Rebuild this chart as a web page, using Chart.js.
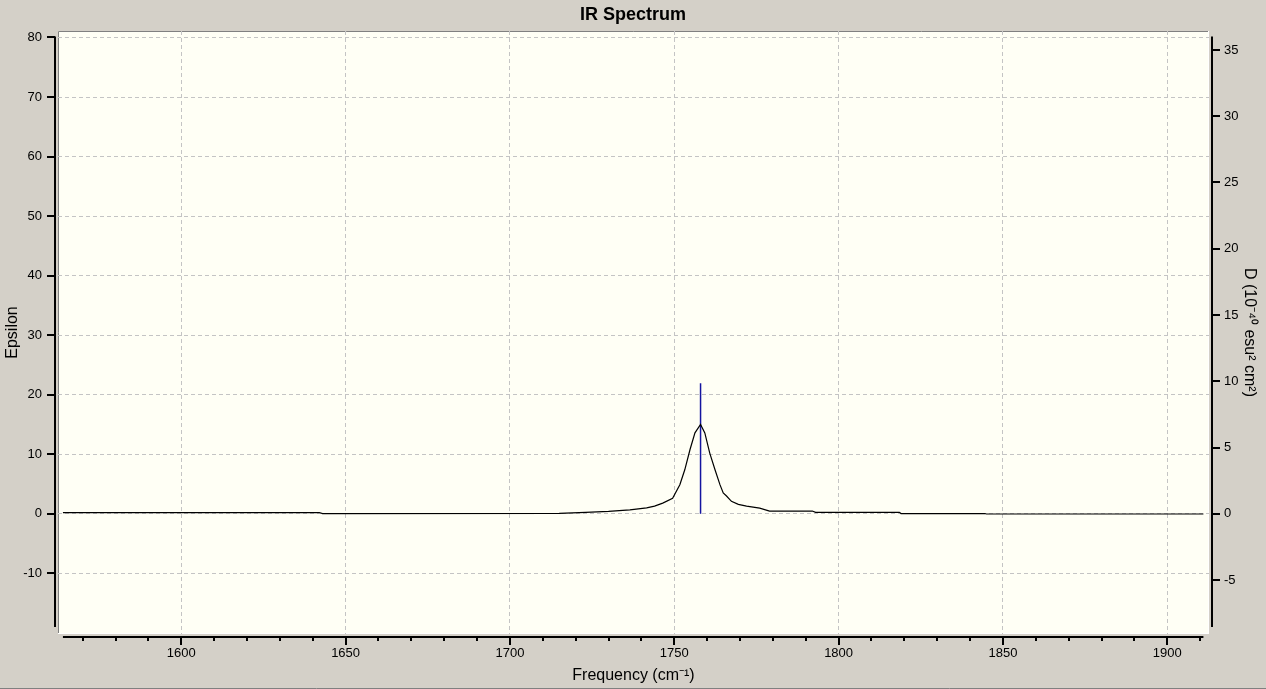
<!DOCTYPE html>
<html>
<head>
<meta charset="utf-8">
<script src="https://cdn.jsdelivr.net/npm/chart.js@4"></script>
<style>
  html, body { margin: 0; padding: 0; background: #D4D0C8; }
  #wrap { position: relative; width: 1266px; height: 689px; }
</style>
</head>
<body>
<div id="wrap"><canvas id="c"></canvas></div>
<script>
// ---- data ----
const freq = [1564, 1642, 1643, 1715, 1723, 1730, 1736.5, 1741.6, 1744, 1746.5, 1749.5, 1751.7, 1753.2, 1754.8, 1756.3, 1758, 1759.3, 1760.8, 1762.4, 1763.9, 1764.9, 1765.9, 1767.4, 1769.5, 1772, 1776, 1779, 1792, 1793, 1818.5, 1819, 1844.5, 1845, 1911];
const epsilon = [0.22, 0.22, 0.05, 0.08, 0.25, 0.4, 0.67, 1.0, 1.3, 1.8, 2.6, 4.9, 7.4, 10.8, 13.6, 15.0, 13.6, 10.2, 7.4, 4.9, 3.5, 3.0, 2.1, 1.6, 1.3, 0.96, 0.47, 0.47, 0.25, 0.25, 0.05, 0.05, -0.03, -0.03];
const stickFreq = [1758];
const stickD = [9.85];
const xTickLabels = [1600, 1650, 1700, 1750, 1800, 1850, 1900];
const xMinorStep = 10;
const epsTickLabels = [-10, 0, 10, 20, 30, 40, 50, 60, 70, 80];
const dTickLabels = [-5, 0, 5, 10, 15, 20, 25, 30, 35];
const epsAxisSpan = [-19, 80];   // drawn extent of axis lines

// ---- build datasets ----
const specPts = freq.map((f, i) => ({ x: f, y: epsilon[i] }));
const stickPts = [];
stickFreq.forEach((f, i) => { stickPts.push({ x: f, y: 0 }, { x: f, y: stickD[i] }, { x: f, y: null }); });
const toTicks = arr => arr.map(v => ({ value: v }));

const panelPlugin = {
  id: 'panel',
  beforeDraw(chart) {
    const { ctx, chartArea: a } = chart;
    ctx.save();
    ctx.fillStyle = '#FFFFF5';
    ctx.fillRect(a.left, a.top, a.right - a.left, a.bottom - a.top);
    ctx.strokeStyle = '#808080'; ctx.lineWidth = 1;
    ctx.beginPath();
    ctx.moveTo(a.left + 0.5, a.bottom); ctx.lineTo(a.left + 0.5, a.top + 0.5); ctx.lineTo(a.right, a.top + 0.5);
    ctx.stroke();
    ctx.strokeStyle = '#FFFFFF';
    ctx.beginPath();
    ctx.moveTo(a.left, a.bottom - 0.5); ctx.lineTo(a.right - 0.5, a.bottom - 0.5); ctx.lineTo(a.right - 0.5, a.top);
    ctx.stroke();
    ctx.strokeStyle = '#808080';
    ctx.beginPath(); ctx.moveTo(0, chart.height - 0.5); ctx.lineTo(chart.width, chart.height - 0.5); ctx.stroke();
    ctx.restore();
  },
  afterDraw(chart) {
    const { ctx, chartArea: a } = chart;
    const xs = chart.scales.x, ys = chart.scales.y, y2s = chart.scales.y2;
    ctx.save();
    ctx.strokeStyle = '#000'; ctx.lineWidth = 2; ctx.lineCap = 'butt';
    const line = (x1, y1, x2, y2) => { ctx.beginPath(); ctx.moveTo(x1, y1); ctx.lineTo(x2, y2); ctx.stroke(); };
    const yT = ys.getPixelForValue(epsAxisSpan[1]) - 1, yB = ys.getPixelForValue(epsAxisSpan[0]);
    const lx = a.left - 3;
    line(lx, yT, lx, yB);
    ys.ticks.forEach(t => { const p = Math.round(ys.getPixelForValue(t.value)); line(lx - 8, p, lx, p); });
    const rx = a.right + 3;
    line(rx, yT, rx, yB);
    y2s.ticks.forEach(t => { const p = Math.round(y2s.getPixelForValue(t.value)); line(rx, p, rx + 8, p); });
    const by = a.bottom + 3;
    const x0 = xs.getPixelForValue(freq[0]), x1 = xs.getPixelForValue(freq[freq.length - 1]);
    line(x0, by, x1, by);
    for (let v = Math.ceil(freq[0] / xMinorStep) * xMinorStep; v <= freq[freq.length - 1]; v += xMinorStep) {
      const p = Math.round(xs.getPixelForValue(v));
      const major = xTickLabels.includes(v);
      line(p, by, p, by + (major ? 8 : 4));
    }
    ctx.restore();
  }
};

const tickFont = { family: 'Liberation Sans, Arial, sans-serif', size: 13 };
const titleFont = { family: 'Liberation Sans, Arial, sans-serif', size: 16 };

new Chart(document.getElementById('c'), {
  type: 'line',
  data: {
    datasets: [
      { label: 'IR', data: specPts, yAxisID: 'y', borderColor: '#000', borderWidth: 1.2, pointRadius: 0, tension: 0, fill: false },
      { label: 'Sticks', data: stickPts, yAxisID: 'y2', borderColor: '#1414A0', borderWidth: 1.5, pointRadius: 0, spanGaps: false, fill: false }
    ]
  },
  options: {
    responsive: true, maintainAspectRatio: false, animation: false, devicePixelRatio: 1,
    layout: { padding: 0 },
    plugins: {
      legend: { display: false }, tooltip: { enabled: false },
      title: { display: true, text: 'IR Spectrum', color: '#000', font: { family: 'Liberation Sans, Arial, sans-serif', size: 18, weight: 'bold' }, padding: { top: 4, bottom: 5.4 } }
    },
    scales: {
      x: {
        type: 'linear', position: 'bottom', min: 1562.5, max: 1912.7,
        afterFit: s => { s.height = 55; },
        afterBuildTicks: s => { s.ticks = toTicks(xTickLabels); },
        grid: { color: '#C4C4C4', drawTicks: false, lineWidth: 1 },
        border: { display: false, dash: [4, 3] },
        ticks: { autoSkip: false, color: '#000', font: tickFont, padding: 12, maxRotation: 0, callback: v => String(v) },
        title: { display: true, text: 'Frequency (cm⁻¹)', color: '#000', font: titleFont, padding: { top: 0, bottom: 4 } }
      },
      y: {
        type: 'linear', position: 'left', min: -20.18, max: 81.09,
        afterFit: s => { s.width = 58; },
        afterBuildTicks: s => { s.ticks = toTicks(epsTickLabels); },
        grid: { color: '#C4C4C4', drawTicks: false, lineWidth: 1 },
        border: { display: false, dash: [4, 3] },
        ticks: { autoSkip: false, color: '#000', font: tickFont, padding: 16 },
        title: { display: true, text: 'Epsilon', color: '#000', font: titleFont, padding: { top: 3, bottom: 0 } }
      },
      y2: {
        type: 'linear', position: 'right', min: -9.07, max: 36.43,
        afterFit: s => { s.width = 57; },
        afterBuildTicks: s => { s.ticks = toTicks(dTickLabels); },
        grid: { display: true, drawOnChartArea: false, drawTicks: false },
        border: { display: false },
        ticks: { autoSkip: false, color: '#000', font: tickFont, padding: 15 },
        title: { display: true, text: 'D (10⁻⁴⁰ esu² cm²)', color: '#000', font: titleFont, padding: { top: 7, bottom: 0 } }
      }
    }
  },
  plugins: [panelPlugin]
});
</script>
</body>
</html>
